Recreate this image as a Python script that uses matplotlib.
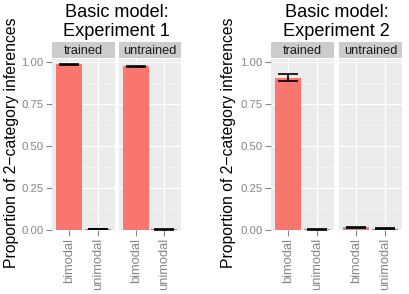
import matplotlib
matplotlib.use('Agg')
import matplotlib.pyplot as plt
import numpy as np

plt.rcParams['font.family'] = ['Liberation Sans', 'DejaVu Sans']

titles = ['Experiment 1', 'Experiment 2']
conditions = ['trained', 'untrained']
categories = ['bimodal', 'unimodal']
# means[experiment][condition][category]
means = [[[0.983, 0.005], [0.972, 0.004]],
         [[0.905, 0.004], [0.015, 0.008]]]
errors = [[[0.003, 0.002], [0.003, 0.002]],
          [[0.020, 0.002], [0.003, 0.002]]]
bar_colors = ['#F8766D', '#00BFC4']
yticks = [0.0, 0.25, 0.5, 0.75, 1.0]

W, H = 409, 294
fig = plt.figure(figsize=(W / 100, H / 100), dpi=100)


def box(l, t, r, b):
    return [l / W, 1 - b / H, (r - l) / W, (b - t) / H]


panel_x = [[(52, 115), (119, 181)], [(271, 334), (339, 402)]]
ptop, pbot = 59, 230
stop, sbot = 42, 58

for e in range(2):
    for c in range(2):
        l, r = panel_x[e][c]
        ax = fig.add_axes(box(l, ptop, r, pbot))
        ax.set_facecolor('#EBEBEB')
        x = np.arange(1, len(categories) + 1)
        ax.bar(x, means[e][c], width=0.9, color=bar_colors, zorder=3)
        ax.errorbar(x, means[e][c], yerr=errors[e][c], fmt='none',
                    ecolor='black', elinewidth=1.2, capsize=7, capthick=1.2, zorder=4)
        ax.set_xlim(0.4, 2.6)
        ax.set_ylim(0, 1.015)
        ax.set_yticks(yticks)
        ax.set_yticks([0.125, 0.375, 0.625, 0.875], minor=True)
        ax.set_xticks(x)
        ax.set_xticklabels(categories, rotation=90, fontsize=9.3, color='#858585')
        ax.grid(which='major', color='white', linewidth=1.0, zorder=0)
        ax.grid(which='minor', axis='y', color='#F5F5F5', linewidth=0.6, zorder=0)
        ax.set_axisbelow(True)
        for s in ax.spines.values():
            s.set_visible(False)
        ax.tick_params(axis='x', length=4, color='#858585', pad=2)
        ax.tick_params(which='minor', length=0)
        if c == 0:
            ax.set_yticklabels(['0.00', '0.25', '0.50', '0.75', '1.00'],
                               fontsize=8.2, color='#858585')
            ax.tick_params(axis='y', length=4, color='#858585', pad=2)
        else:
            ax.tick_params(axis='y', length=0, labelleft=False)

        sax = fig.add_axes(box(l, stop, r, sbot))
        sax.set_facecolor('#CCCCCC')
        sax.set_xticks([])
        sax.set_yticks([])
        for s in sax.spines.values():
            s.set_visible(False)
        sax.text(0.5, 0.45, conditions[c], ha='center', va='center',
                 fontsize=9.2, color='#1A1A1A', transform=sax.transAxes)

    cx = (panel_x[e][0][0] + panel_x[e][1][1]) / 2 / W
    fig.text(cx, 1 - 17 / H, 'Basic model:', ha='center', va='baseline', fontsize=13.1)
    fig.text(cx, 1 - 36 / H, titles[e], ha='center', va='baseline', fontsize=13.1)
    lx = [12, 228][e]
    fig.text(lx / W, 1 - 143 / H, 'Proportion of 2\u2212category inferences',
             rotation=90, ha='center', va='center', fontsize=11.3)

fig.savefig('out.png', dpi=100)
